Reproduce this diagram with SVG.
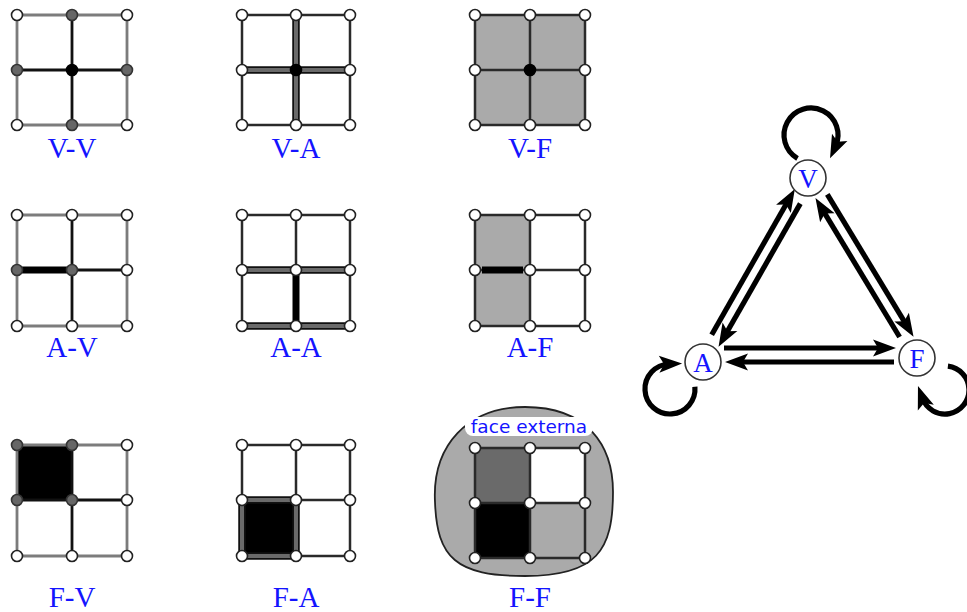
<svg xmlns="http://www.w3.org/2000/svg" width="967" height="612" viewBox="0 0 967 612">
  <style>
    .e { fill: none; stroke: #2a2a2a; stroke-width: 2.5; stroke-linecap: round; }
    .el { fill: none; stroke: #7c7c7c; stroke-width: 2.8; stroke-linecap: round; }
    .hb { fill: none; stroke: #111; stroke-width: 7.5; }
    .hi { fill: none; stroke: #6a6a6a; stroke-width: 4; }
    .bar { fill: none; stroke: #000; stroke-width: 7; }
    .v { fill: #fff; stroke: #222; stroke-width: 1.6; }
    .vd { fill: #666; stroke: #333; stroke-width: 1.6; }
    .vk { fill: #000; stroke: #000; stroke-width: 1.6; }
    .gray { fill: #aaaaaa; }
    .dark { fill: #6a6a6a; }
    .blk { fill: #000; }
    .lbl { font-family: "Liberation Serif", "Times New Roman", serif; font-size: 29px; fill: #1414ff; text-anchor: middle; }
    .nlbl { font-family: "Liberation Serif", "Times New Roman", serif; font-size: 27px; fill: #1414ff; text-anchor: middle; }
    .node { fill: #fff; stroke: #333; stroke-width: 1.6; }
    .arr { fill: none; stroke: #000; stroke-width: 5.2; }
  </style>
  <defs>
    <marker id="ah" markerUnits="userSpaceOnUse" markerWidth="26" markerHeight="20" viewBox="0 -10 26 20" refX="10" refY="0" orient="auto" overflow="visible">
      <path d="M0,-8.5 L23,0 L0,8.5 L5,0 Z" fill="#000"/>
    </marker>
  </defs>

  <!-- V-V -->
  <g id="vv">
    <path class="el" d="M17 15 H127 V125 H17 Z"/>
    <path class="e" d="M72 15 V125 M17 70 H127" style="stroke:#111;stroke-width:2.8"/>
    <circle class="v" cx="17" cy="15" r="5.5"/><circle class="vd" cx="72" cy="15" r="5.5"/><circle class="v" cx="127" cy="15" r="5.5"/>
    <circle class="vd" cx="17" cy="70" r="5.5"/><circle class="vk" cx="72" cy="70" r="5.5"/><circle class="vd" cx="127" cy="70" r="5.5"/>
    <circle class="v" cx="17" cy="125" r="5.5"/><circle class="vd" cx="72" cy="125" r="5.5"/><circle class="v" cx="127" cy="125" r="5.5"/>
    <text class="lbl" x="72" y="158">V-V</text>
  </g>

  <!-- V-A -->
  <g id="va">
    <path class="e" d="M242 15 H350 V125 H242 Z M296 15 V125 M242 70 H350"/>
    <path class="hb" d="M296 15 V125 M242 70 H350"/>
    <path class="hi" d="M296 15 V125 M242 70 H350"/>
    <circle class="v" cx="242" cy="15" r="5.5"/><circle class="v" cx="296" cy="15" r="5.5"/><circle class="v" cx="350" cy="15" r="5.5"/>
    <circle class="v" cx="242" cy="70" r="5.5"/><circle class="vk" cx="296" cy="70" r="5.5"/><circle class="v" cx="350" cy="70" r="5.5"/>
    <circle class="v" cx="242" cy="125" r="5.5"/><circle class="v" cx="296" cy="125" r="5.5"/><circle class="v" cx="350" cy="125" r="5.5"/>
    <text class="lbl" x="296" y="158">V-A</text>
  </g>

  <!-- V-F -->
  <g id="vf">
    <rect class="gray" x="475" y="15" width="110" height="110"/>
    <path class="e" d="M475 15 H585 V125 H475 Z M530 15 V125 M475 70 H585"/>
    <circle class="v" cx="475" cy="15" r="5.5"/><circle class="v" cx="530" cy="15" r="5.5"/><circle class="v" cx="585" cy="15" r="5.5"/>
    <circle class="v" cx="475" cy="70" r="5.5"/><circle class="vk" cx="530" cy="70" r="5.5"/><circle class="v" cx="585" cy="70" r="5.5"/>
    <circle class="v" cx="475" cy="125" r="5.5"/><circle class="v" cx="530" cy="125" r="5.5"/><circle class="v" cx="585" cy="125" r="5.5"/>
    <text class="lbl" x="530" y="158">V-F</text>
  </g>

  <!-- A-V -->
  <g id="av">
    <path class="el" d="M17 215 H127 V326 H17 Z"/>
    <path class="e" d="M72 215 V326 M72 270 H127" style="stroke:#111;stroke-width:2.8"/>
    <path class="bar" d="M17 270 H72"/>
    <circle class="v" cx="17" cy="215" r="5.5"/><circle class="v" cx="72" cy="215" r="5.5"/><circle class="v" cx="127" cy="215" r="5.5"/>
    <circle class="vd" cx="17" cy="270" r="5.5"/><circle class="vd" cx="72" cy="270" r="5.5"/><circle class="v" cx="127" cy="270" r="5.5"/>
    <circle class="v" cx="17" cy="326" r="5.5"/><circle class="v" cx="72" cy="326" r="5.5"/><circle class="v" cx="127" cy="326" r="5.5"/>
    <text class="lbl" x="72" y="357">A-V</text>
  </g>

  <!-- A-A -->
  <g id="aa">
    <path class="e" d="M242 215 H350 V326 H242 Z M296 215 V326 M242 270 H350"/>
    <path class="hb" d="M242 270 H350 M242 326 H350"/>
    <path class="hi" d="M242 270 H350 M242 326 H350"/>
    <path class="bar" d="M296 270 V326"/>
    <circle class="v" cx="242" cy="215" r="5.5"/><circle class="v" cx="296" cy="215" r="5.5"/><circle class="v" cx="350" cy="215" r="5.5"/>
    <circle class="v" cx="242" cy="270" r="5.5"/><circle class="v" cx="296" cy="270" r="5.5"/><circle class="v" cx="350" cy="270" r="5.5"/>
    <circle class="v" cx="242" cy="326" r="5.5"/><circle class="v" cx="296" cy="326" r="5.5"/><circle class="v" cx="350" cy="326" r="5.5"/>
    <text class="lbl" x="296" y="357">A-A</text>
  </g>

  <!-- A-F -->
  <g id="af">
    <rect class="gray" x="475" y="215" width="55" height="111"/>
    <path class="e" d="M475 215 H585 V326 H475 Z M530 215 V326 M475 270 H585"/>
    <path class="bar" d="M482 270 H523"/>
    <circle class="v" cx="475" cy="215" r="5.5"/><circle class="v" cx="530" cy="215" r="5.5"/><circle class="v" cx="585" cy="215" r="5.5"/>
    <circle class="v" cx="475" cy="270" r="5.5"/><circle class="v" cx="530" cy="270" r="5.5"/><circle class="v" cx="585" cy="270" r="5.5"/>
    <circle class="v" cx="475" cy="326" r="5.5"/><circle class="v" cx="530" cy="326" r="5.5"/><circle class="v" cx="585" cy="326" r="5.5"/>
    <text class="lbl" x="530" y="357">A-F</text>
  </g>

  <!-- F-V -->
  <g id="fv">
    <rect class="blk" x="17" y="445" width="55" height="55"/>
    <path class="el" d="M17 445 H127 V556 H17 Z"/>
    <path class="e" d="M72 445 V556 M17 500 H127" style="stroke:#111;stroke-width:2.8"/>
    <circle class="vd" cx="17" cy="445" r="5.5"/><circle class="vd" cx="72" cy="445" r="5.5"/><circle class="v" cx="127" cy="445" r="5.5"/>
    <circle class="vd" cx="17" cy="500" r="5.5"/><circle class="vd" cx="72" cy="500" r="5.5"/><circle class="v" cx="127" cy="500" r="5.5"/>
    <circle class="v" cx="17" cy="556" r="5.5"/><circle class="v" cx="72" cy="556" r="5.5"/><circle class="v" cx="127" cy="556" r="5.5"/>
    <text class="lbl" x="72" y="607">F-V</text>
  </g>

  <!-- F-A -->
  <g id="fa">
    <rect class="blk" x="242" y="500" width="54" height="56"/>
    <path class="e" d="M242 445 H350 V556 H242 Z M296 445 V556 M242 500 H350"/>
    <path class="hb" d="M242 500 H296 V556 H242 Z"/>
    <path class="hi" d="M242 500 H296 V556 H242 Z"/>
    <circle class="v" cx="242" cy="445" r="5.5"/><circle class="v" cx="296" cy="445" r="5.5"/><circle class="v" cx="350" cy="445" r="5.5"/>
    <circle class="v" cx="242" cy="500" r="5.5"/><circle class="v" cx="296" cy="500" r="5.5"/><circle class="v" cx="350" cy="500" r="5.5"/>
    <circle class="v" cx="242" cy="556" r="5.5"/><circle class="v" cx="296" cy="556" r="5.5"/><circle class="v" cx="350" cy="556" r="5.5"/>
    <text class="lbl" x="296" y="607">F-A</text>
  </g>

  <!-- F-F, with the outer face drawn round the grid -->
  <g id="ff">
    <path d="M435 502 C432 445 468 407 525 407 C587 407 613 445 613 492 C613 550 597 576 525 576 C456 576 437 558 435 502 Z" fill="#aaaaaa" stroke="#222" stroke-width="1.8"/>
    <rect x="465" y="417" width="128" height="19" rx="8" fill="#fff"/>
    <text x="529" y="433" font-family="'DejaVu Sans', sans-serif" font-size="18.5" fill="#1414ff" text-anchor="middle">face externa</text>
    <rect class="dark" x="475" y="448" width="55" height="55"/>
    <rect fill="#fff" x="530" y="448" width="55" height="55"/>
    <rect class="blk" x="475" y="503" width="55" height="55"/>
    <path class="e" d="M475 448 H585 V558 H475 Z M530 448 V558 M475 503 H585"/>
    <circle class="v" cx="475" cy="448" r="5.5"/><circle class="v" cx="530" cy="448" r="5.5"/><circle class="v" cx="585" cy="448" r="5.5"/>
    <circle class="v" cx="475" cy="503" r="5.5"/><circle class="v" cx="530" cy="503" r="5.5"/><circle class="v" cx="585" cy="503" r="5.5"/>
    <circle class="v" cx="475" cy="558" r="5.5"/><circle class="v" cx="530" cy="558" r="5.5"/><circle class="v" cx="585" cy="558" r="5.5"/>
    <text class="lbl" x="530" y="607">F-F</text>
  </g>

  <!-- connectors of the V/A/F graph -->
  <g id="connectors" marker-end="url(#ah)">
    <path class="arr" d="M711.7 334.7 L788.4 200.2"/>
    <path class="arr" d="M800.3 203.6 L725.0 335.5"/>
    <path class="arr" d="M827.3 194.4 L906.8 325.6"/>
    <path class="arr" d="M899.6 337.0 L822.2 209.2"/>
    <path class="arr" d="M724 348 L883 348"/>
    <path class="arr" d="M894 362 L738 362"/>
    <path class="arr" d="M797.5 158.4 A27 27 0 1 1 835.5 146.4"/>
    <path class="arr" d="M694.9 386.8 A25 25 0 1 1 669.1 364.0"/>
    <path class="arr" d="M947.9 366.2 A24 24 0 1 1 922.4 398.2"/>
  </g>

  <g id="node-v">
    <circle class="node" cx="808" cy="178" r="18"/>
    <text class="nlbl" x="808" y="187.5">V</text>
  </g>
  <g id="node-a">
    <circle class="node" cx="703" cy="362" r="18"/>
    <text class="nlbl" x="703" y="371.5">A</text>
  </g>
  <g id="node-f">
    <circle class="node" cx="917" cy="358" r="18"/>
    <text class="nlbl" x="917" y="367.5">F</text>
  </g>
</svg>
